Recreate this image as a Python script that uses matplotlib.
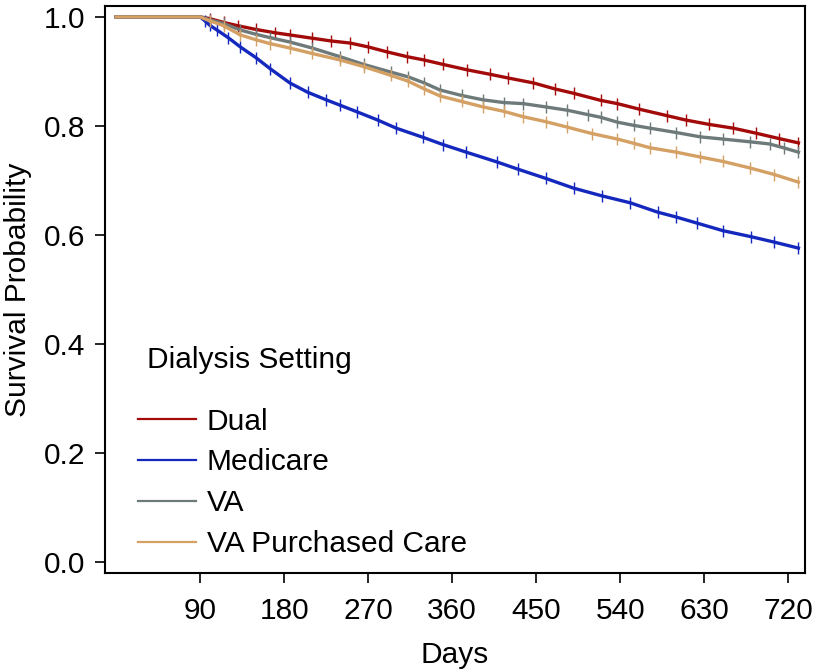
import matplotlib
matplotlib.use("Agg")
import matplotlib.pyplot as plt
from matplotlib.lines import Line2D

plt.rcParams["font.family"] = ["Liberation Sans", "DejaVu Sans"]

# Kaplan-Meier curves (days, survival probability)
dual_days = [0, 90, 100, 115, 130, 150, 170, 186, 210, 230, 251, 270, 290, 312, 330, 350,
             376, 400, 420, 447, 470, 490, 519, 537, 560, 590, 610, 635, 661, 685, 710, 731]
dual_surv = [1.0, 1.0, 0.997, 0.990, 0.984, 0.977, 0.971, 0.967, 0.961, 0.956, 0.952, 0.945,
             0.936, 0.927, 0.921, 0.913, 0.903, 0.895, 0.888, 0.879, 0.868, 0.860, 0.847,
             0.841, 0.831, 0.819, 0.811, 0.803, 0.796, 0.787, 0.777, 0.769]

medicare_days = [0, 90, 95, 100, 108, 120, 133, 150, 165, 186, 205, 225, 240, 258, 280, 300,
                 329, 350, 375, 408, 430, 460, 490, 520, 551, 580, 600, 622, 650, 680, 705, 731]
medicare_surv = [1.0, 1.0, 0.993, 0.985, 0.976, 0.962, 0.945, 0.925, 0.905, 0.879, 0.862,
                 0.848, 0.838, 0.826, 0.811, 0.796, 0.779, 0.766, 0.752, 0.734, 0.721, 0.704,
                 0.686, 0.672, 0.659, 0.642, 0.633, 0.622, 0.608, 0.597, 0.587, 0.576]

va_days = [0, 90, 100, 115, 133, 150, 165, 186, 210, 240, 265, 294, 313, 330, 347, 370, 393,
           415, 436, 460, 483, 505, 519, 537, 555, 572, 600, 626, 650, 679, 700, 715, 731]
va_surv = [1.0, 1.0, 0.995, 0.988, 0.976, 0.968, 0.962, 0.954, 0.943, 0.927, 0.913, 0.899,
           0.890, 0.879, 0.866, 0.856, 0.848, 0.843, 0.841, 0.835, 0.829, 0.821, 0.816, 0.807,
           0.801, 0.796, 0.788, 0.780, 0.776, 0.771, 0.767, 0.760, 0.752]

vapc_days = [0, 90, 100, 115, 133, 150, 165, 186, 210, 240, 265, 294, 313, 330, 347, 370, 393,
             415, 436, 460, 483, 510, 537, 555, 572, 600, 626, 650, 679, 705, 731]
vapc_surv = [1.0, 1.0, 0.993, 0.984, 0.967, 0.958, 0.951, 0.943, 0.933, 0.921, 0.909, 0.893,
             0.882, 0.868, 0.855, 0.845, 0.835, 0.827, 0.817, 0.808, 0.798, 0.786, 0.776,
             0.768, 0.760, 0.752, 0.743, 0.735, 0.723, 0.711, 0.697]

labels = ["Dual", "Medicare", "VA", "VA Purchased Care"]
colors = ["#A30A0A", "#1428BE", "#6E7A7A", "#D4A064"]

x_ticks = [90, 180, 270, 360, 450, 540, 630, 720]
y_ticks = [0.0, 0.2, 0.4, 0.6, 0.8, 1.0]

FS = 21.5

fig = plt.figure(figsize=(8.17, 6.71), dpi=100)
ax = fig.add_axes([0.1285, 0.146, 0.8568, 0.845])

series = [(dual_days, dual_surv), (medicare_days, medicare_surv),
          (va_days, va_surv), (vapc_days, vapc_surv)]
for (d, s), c in zip(series, colors):
    ax.plot(d, s, color=c, linewidth=2.4, solid_joinstyle="round")
    # censoring tick marks
    ax.plot(d[2:], s[2:], linestyle="none", marker="|", markersize=8,
            markeredgewidth=1.0, color=c)

ax.set_xlim(-12, 738)
ax.set_ylim(-0.02, 1.02)
ax.set_xticks(x_ticks)
ax.set_yticks(y_ticks)
ax.set_yticklabels([f"{v:.1f}" for v in y_ticks])
ax.tick_params(direction="out", length=7, width=1.2, labelsize=FS, pad=7)
ax.tick_params(axis="x", pad=10)
for sp in ax.spines.values():
    sp.set_linewidth(1.5)

ax.set_xlabel("Days", fontsize=FS, labelpad=12)
ax.set_ylabel("Survival Probability", fontsize=FS, labelpad=9)

handles = [Line2D([], [], color=c, linewidth=1.6) for c in colors]
leg = ax.legend(handles, labels, title="Dialysis Setting", loc="upper left",
                bbox_to_anchor=(0.047, 0.4), frameon=False, fontsize=FS,
                title_fontsize=FS, handlelength=1.95, handletextpad=0.35,
                labelspacing=0.43, borderpad=0, borderaxespad=0, alignment="left")
leg._legend_box.sep = 24
leg.get_title().set_position((9, 0))

fig.savefig("out.png", dpi=100)
